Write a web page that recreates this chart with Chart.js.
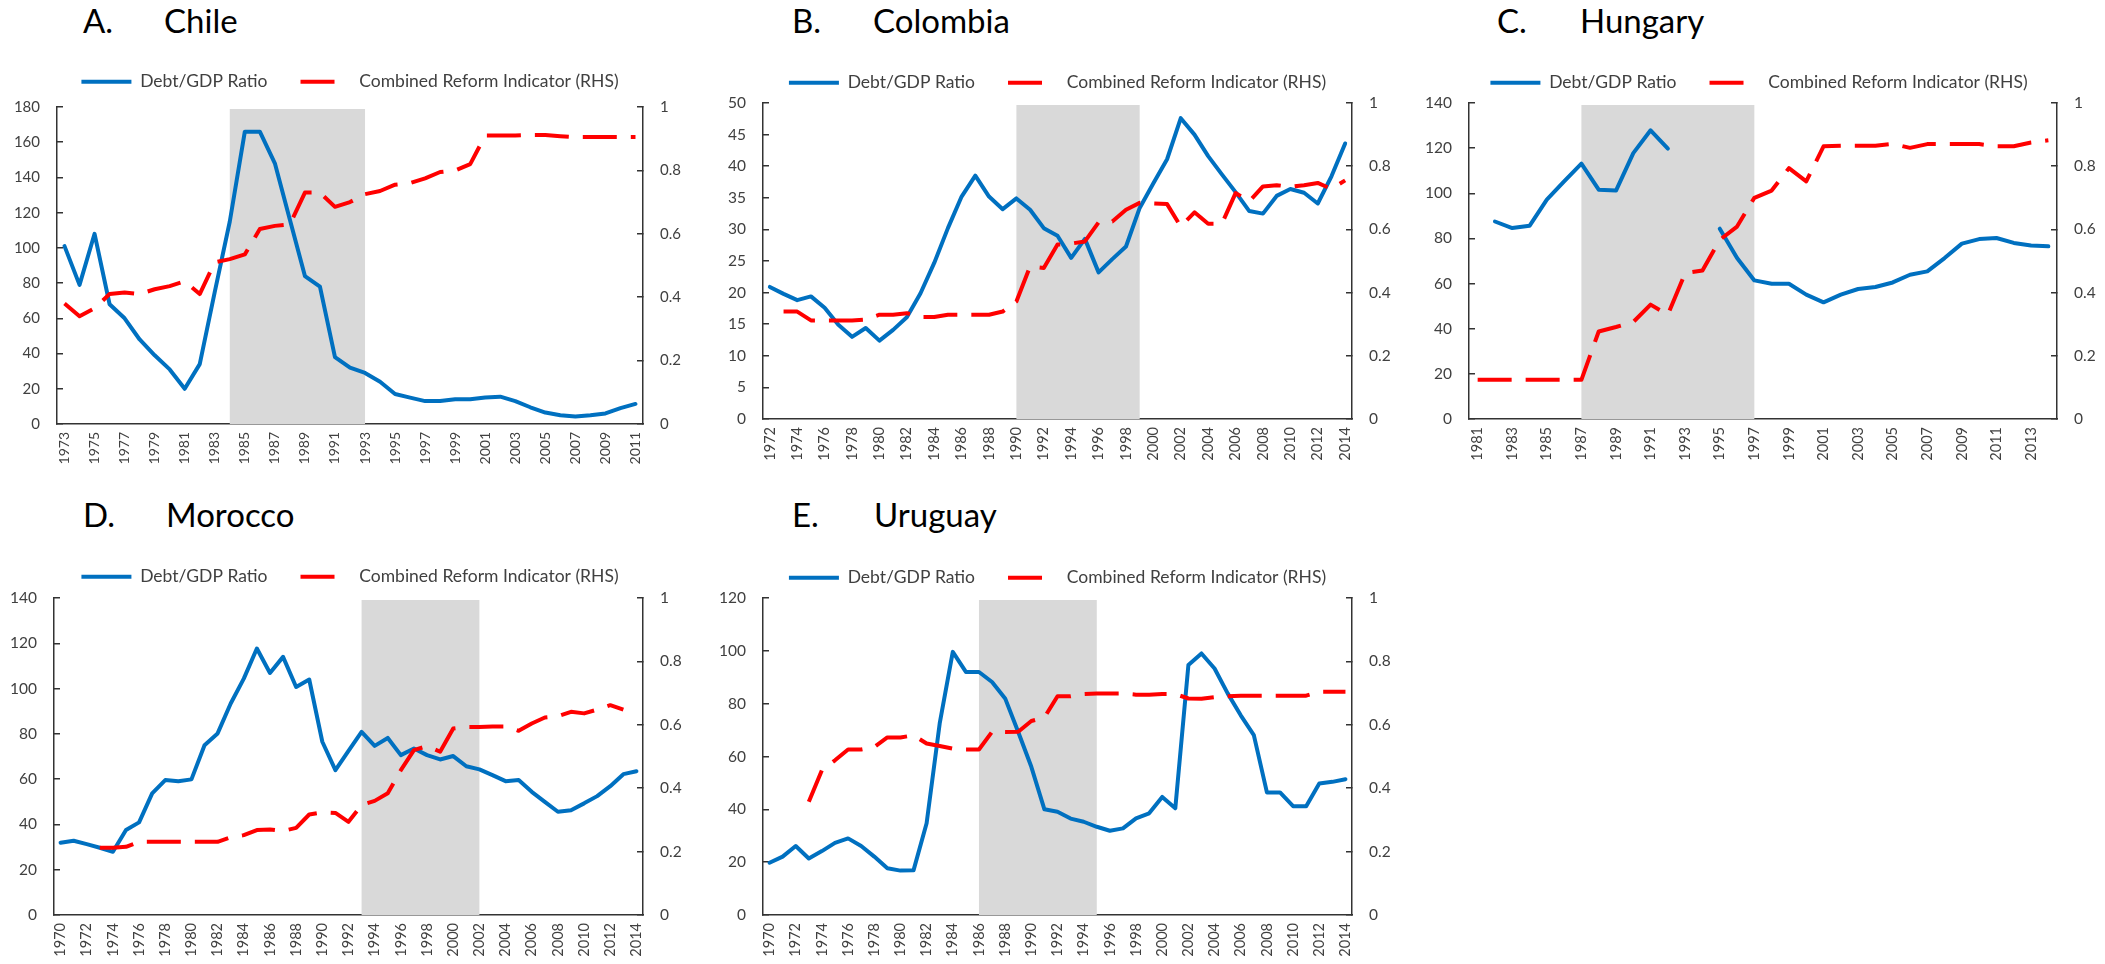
<!DOCTYPE html>
<html>
<head>
<meta charset="utf-8">
<script src="https://cdn.jsdelivr.net/npm/chart.js@4.4.1/dist/chart.umd.min.js"></script>
<style>
  body { margin: 0; background: #fff; width: 2105px; height: 964px; overflow: hidden; position: relative; font-family: Lato, sans-serif; }
  .ttl { position: absolute; font-size: 33px; line-height: 33px; color: #000; white-space: nowrap; }
  canvas { position: absolute; }
</style>
</head>
<body>
<div class="ttl" style="left:83px;top:4px">A.</div><div class="ttl" style="left:164px;top:4px">Chile</div>
<div class="ttl" style="left:792px;top:4px">B.</div><div class="ttl" style="left:873px;top:4px">Colombia</div>
<div class="ttl" style="left:1497px;top:4px">C.</div><div class="ttl" style="left:1580px;top:4px">Hungary</div>
<div class="ttl" style="left:83px;top:498px">D.</div><div class="ttl" style="left:166px;top:498px">Morocco</div>
<div class="ttl" style="left:792px;top:498px">E.</div><div class="ttl" style="left:874px;top:498px">Uruguay</div>

<canvas id="chile"></canvas>
<canvas id="colombia"></canvas>
<canvas id="hungary"></canvas>
<canvas id="morocco"></canvas>
<canvas id="uruguay"></canvas>

<script>
// --- Daten ---
const yearsChile = ['1973','1974','1975','1976','1977','1978','1979','1980','1981','1982','1983','1984','1985','1986','1987','1988','1989','1990','1991','1992','1993','1994','1995','1996','1997','1998','1999','2000','2001','2002','2003','2004','2005','2006','2007','2008','2009','2010','2011'];
const debtChile = [101, 79, 108, 68, 60, 48, 39, 31, 20, 34, 75, 115, 166, 166, 148, 116, 84, 78, 38, 32, 29, 24, 17, 15, 13, 13, 14, 14, 15, 15.5, 13, 9.5, 6.5, 5, 4.2, 5, 6, 9, 11.4];
const reformChile = [0.38, 0.34, 0.365, 0.41, 0.415, 0.41, 0.425, 0.435, 0.45, 0.41, 0.51, 0.52, 0.535, 0.615, 0.625, 0.63, 0.73, 0.73, 0.685, 0.70, 0.725, 0.735, 0.755, 0.76, 0.775, 0.795, 0.80, 0.82, 0.91, 0.91, 0.91, 0.912, 0.912, 0.908, 0.905, 0.905, 0.905, 0.905, 0.905];
const shadeChile = ['1984', '1993'];

const yearsColombia = ['1972','1973','1974','1975','1976','1977','1978','1979','1980','1981','1982','1983','1984','1985','1986','1987','1988','1989','1990','1991','1992','1993','1994','1995','1996','1997','1998','1999','2000','2001','2002','2003','2004','2005','2006','2007','2008','2009','2010','2011','2012','2013','2014'];
const debtColombia = [20.9, 19.8, 18.8, 19.4, 17.6, 14.9, 13.0, 14.4, 12.4, 14.1, 16.1, 19.9, 24.7, 30.2, 35.2, 38.5, 35.2, 33.2, 34.9, 33.1, 30.2, 29.0, 25.5, 28.5, 23.2, 25.3, 27.3, 33.4, 37.3, 41.1, 47.6, 45, 41.6, 38.7, 35.9, 32.9, 32.5, 35.3, 36.4, 35.8, 34.1, 38.4, 43.6];
const reformColombia = [null, 0.34, 0.34, 0.312, 0.312, 0.312, 0.312, 0.315, 0.33, 0.33, 0.335, 0.323, 0.323, 0.33, 0.33, 0.33, 0.33, 0.34, 0.372, 0.483, 0.478, 0.552, 0.555, 0.562, 0.622, 0.625, 0.662, 0.684, 0.682, 0.68, 0.609, 0.654, 0.618, 0.618, 0.715, 0.689, 0.736, 0.74, 0.735, 0.74, 0.747, 0.728, 0.755];
const shadeColombia = ['1990', '1999'];

const yearsHungary = ['1981','1982','1983','1984','1985','1986','1987','1988','1989','1990','1991','1992','1993','1994','1995','1996','1997','1998','1999','2000','2001','2002','2003','2004','2005','2006','2007','2008','2009','2010','2011','2012','2013','2014'];
const debtHungary = [null, 87.5, 84.6, 85.6, 97.2, 105.3, 113.1, 101.6, 101.2, 117.8, 127.9, 119.8, null, null, 84.3, 71.3, 61.4, 59.9, 59.9, 55.1, 51.7, 55.1, 57.6, 58.5, 60.5, 63.9, 65.4, 71.3, 77.7, 79.7, 80.2, 78, 76.9, 76.5];
const reformHungary = [0.124, 0.124, 0.124, 0.124, 0.124, 0.124, 0.124, 0.277, 0.291, 0.307, 0.362, 0.33, 0.462, 0.47, 0.567, 0.609, 0.70, 0.723, 0.794, 0.752, 0.863, 0.865, 0.865, 0.865, 0.871, 0.858, 0.87, 0.87, 0.87, 0.87, 0.863, 0.863, 0.875, 0.882];
const shadeHungary = ['1987', '1997'];

const yearsMorocco = ['1970','1971','1972','1973','1974','1975','1976','1977','1978','1979','1980','1981','1982','1983','1984','1985','1986','1987','1988','1989','1990','1991','1992','1993','1994','1995','1996','1997','1998','1999','2000','2001','2002','2003','2004','2005','2006','2007','2008','2009','2010','2011','2012','2013','2014'];
const debtMorocco = [31.9, 32.8, 31.3, 29.7, 27.9, 37.5, 40.9, 53.7, 59.6, 59.1, 59.9, 75, 80.2, 93.4, 104.4, 117.7, 106.9, 114, 100.7, 104, 76.5, 64, 72.5, 80.9, 74.7, 78.2, 70.6, 73.5, 70.6, 68.7, 70.2, 65.7, 64.3, 61.8, 59.1, 59.6, 54.4, 50, 45.6, 46.3, 49.3, 52.5, 56.9, 62.2, 63.5];
const reformMorocco = [null, null, null, 0.212, 0.212, 0.215, 0.231, 0.231, 0.231, 0.231, 0.231, 0.231, 0.231, 0.245, 0.252, 0.268, 0.27, 0.265, 0.275, 0.317, 0.324, 0.322, 0.294, 0.347, 0.36, 0.384, 0.457, 0.52, 0.533, 0.515, 0.588, 0.593, 0.593, 0.595, 0.595, 0.581, 0.604, 0.623, 0.627, 0.641, 0.636, 0.648, 0.662, 0.648, null];
const shadeMorocco = ['1993', '2002'];

const yearsUruguay = yearsMorocco;
const debtUruguay = [19.8, 22.1, 26.1, 21.4, 24.2, 27.3, 29, 26.1, 22.1, 17.7, 16.8, 16.9, 34.7, 72.5, 99.6, 92, 92, 88.2, 82, 69.3, 56.1, 40, 39.1, 36.5, 35.3, 33.4, 31.9, 32.8, 36.6, 38.5, 44.7, 40.4, 94.6, 99, 93.3, 83.9, 75.6, 68.1, 46.4, 46.4, 41.2, 41.2, 49.8, 50.4, 51.4];
const reformUruguay = [null, null, null, 0.357, 0.457, 0.488, 0.522, 0.522, 0.53, 0.56, 0.56, 0.567, 0.541, 0.533, 0.525, 0.522, 0.522, 0.578, 0.577, 0.578, 0.612, 0.623, 0.69, 0.69, 0.697, 0.699, 0.699, 0.699, 0.695, 0.695, 0.697, 0.697, 0.683, 0.682, 0.687, 0.69, 0.692, 0.692, 0.692, 0.692, 0.692, 0.692, 0.704, 0.704, 0.704];
const shadeUruguay = ['1986', '1995'];

const legendLabels = ['Debt/GDP Ratio', 'Combined Reform Indicator (RHS)'];

Chart.defaults.font.family = 'Lato, sans-serif';
Chart.defaults.color = '#404040';

// Graue Phase hinter den Linien
const shadePlugin = {
    id: 'shade',
    beforeDatasetsDraw(chart, args, opts) {
        const x = chart.scales.x;
        const area = chart.chartArea;
        const labels = chart.data.labels;
        const a = x.getPixelForValue(labels.indexOf(opts.range[0]));
        const b = x.getPixelForValue(labels.indexOf(opts.range[1]));
        const ctx = chart.ctx;
        ctx.save();
        ctx.fillStyle = '#d9d9d9';
        ctx.fillRect(a, area.top + 2, b - a, area.bottom - area.top - 2);
        ctx.restore();
    }
};

// Legendenhöhe fest vorgeben
const legendHeight = {
    id: 'legendHeight',
    beforeInit(chart, args, opts) {
        const fit = chart.legend.fit;
        chart.legend.fit = function () {
            fit.call(this);
            this.height = opts.height;
        };
    }
};

function makePanel(id, labels, debt, reform, shade, leftMax, leftStep, g) {
    const canvas = document.getElementById(id);
    canvas.width = g.w;
    canvas.height = g.h;
    canvas.style.left = g.x + 'px';
    canvas.style.top = g.y + 'px';

    const axisLine = { display: true, color: '#333', width: 1.5 };

    return new Chart(canvas, {
        type: 'line',
        data: {
            labels: labels,
            datasets: [{
                label: legendLabels[0],
                data: debt,
                yAxisID: 'y',
                borderColor: '#0070C0',
                backgroundColor: '#0070C0',
                borderWidth: 4,
                pointRadius: 0,
                tension: 0,
                borderJoinStyle: 'round',
                borderCapStyle: 'round',
                order: 2
            }, {
                label: legendLabels[1],
                data: reform,
                yAxisID: 'y1',
                borderColor: '#FF0000',
                backgroundColor: '#FF0000',
                borderWidth: 4,
                borderDash: [34, 14],
                pointRadius: 0,
                tension: 0,
                borderJoinStyle: 'round',
                order: 1
            }]
        },
        options: {
            responsive: false,
            animation: false,
            layout: { padding: 0 },
            plugins: {
                shade: { range: shade },
                legendHeight: { height: g.legendH },
                tooltip: { enabled: false },
                legend: {
                    position: 'top',
                    labels: {
                        usePointStyle: true,
                        pointStyle: 'line',
                        pointStyleWidth: 50,
                        padding: 33,
                        color: '#404040',
                        font: { size: 17.5 },
                        sort: (a, b) => a.datasetIndex - b.datasetIndex,
                        generateLabels(chart) {
                            const items = Chart.defaults.plugins.legend.labels.generateLabels(chart);
                            items.forEach(it => { if (it.datasetIndex === 1) it.lineDash = [34, 20]; });
                            return items;
                        }
                    }
                }
            },
            scales: {
                x: {
                    type: 'category',
                    offset: true,
                    grid: { display: false, drawTicks: false },
                    border: axisLine,
                    ticks: {
                        autoSkip: false,
                        minRotation: 90,
                        maxRotation: 90,
                        padding: 8,
                        font: { size: g.xFont },
                        color: '#404040',
                        callback: function (v, i) { return i % 2 === 0 ? this.getLabelForValue(v) : ''; }
                    },
                    afterFit: s => { s.height = g.xAxisH; }
                },
                y: {
                    position: 'left',
                    min: 0,
                    max: leftMax,
                    grid: { drawOnChartArea: false, tickLength: -6, tickColor: '#333', lineWidth: 1.5 },
                    border: axisLine,
                    ticks: { stepSize: leftStep, padding: 23, font: { size: g.yFont }, color: '#404040' },
                    afterFit: s => { s.width = g.left; }
                },
                y1: {
                    position: 'right',
                    min: 0,
                    max: 1,
                    grid: { drawOnChartArea: false, tickLength: -6, tickColor: '#333', lineWidth: 1.5 },
                    border: axisLine,
                    ticks: {
                        stepSize: 0.2, padding: 23, font: { size: g.yFont }, color: '#404040',
                        callback: v => String(Math.round(v * 10) / 10)
                    },
                    afterFit: s => { s.width = g.right; }
                }
            }
        },
        plugins: [shadePlugin, legendHeight]
    });
}

makePanel('chile', yearsChile, debtChile, reformChile, shadeChile, 180, 20,
    { x: 0, y: 40, w: 700, h: 440, left: 57, right: 57, legendH: 67, xAxisH: 56, xFont: 14, yFont: 15 });
makePanel('colombia', yearsColombia, debtColombia, reformColombia, shadeColombia, 50, 5,
    { x: 707, y: 41, w: 701, h: 434, left: 56, right: 56, legendH: 62, xAxisH: 56, xFont: 14.5, yFont: 15.5 });
makePanel('hungary', yearsHungary, debtHungary, reformHungary, shadeHungary, 140, 20,
    { x: 1413, y: 41, w: 692, h: 434, left: 56, right: 48, legendH: 62, xAxisH: 56, xFont: 14.5, yFont: 15.5 });
makePanel('morocco', yearsMorocco, debtMorocco, reformMorocco, shadeMorocco, 140, 20,
    { x: 0, y: 535, w: 700, h: 425, left: 54, right: 57, legendH: 63, xAxisH: 45, xFont: 14.5, yFont: 15.5 });
makePanel('uruguay', yearsUruguay, debtUruguay, reformUruguay, shadeUruguay, 120, 20,
    { x: 707, y: 536, w: 701, h: 424, left: 56, right: 56, legendH: 62, xAxisH: 45, xFont: 14.5, yFont: 15.5 });
</script>
</body>
</html>
